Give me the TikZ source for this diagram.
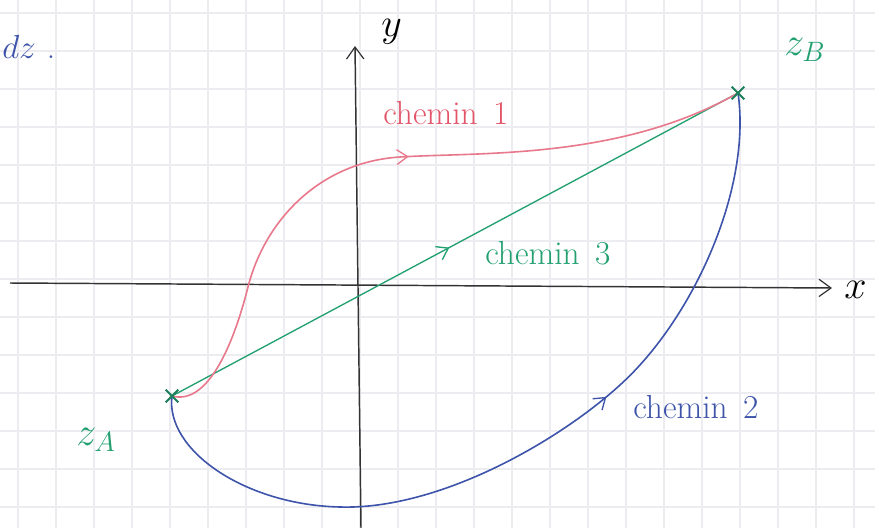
\RequirePackage{fix-cm}
\documentclass[tikz,border=0pt]{standalone}
\usepackage{fontspec}
\usetikzlibrary{arrows.meta,decorations.markings,shapes.misc}

\definecolor{penred}{RGB}{226,84,104}
\definecolor{pinkline}{RGB}{232,120,140}
\definecolor{pengreen}{RGB}{34,160,112}
\definecolor{penblue}{RGB}{62,84,170}
\definecolor{gridgray}{RGB}{236,236,241}

\tikzset{
  axisline/.style={draw=black!80,line width=1.1pt,-{Straight Barb[length=9pt,width=13pt,line width=0.9pt]}},
  midarrow/.style={postaction={decorate},decoration={markings,
      mark=at position #1 with {\arrow{Straight Barb[length=8pt,width=11pt,line width=1pt]}}}},
  handtext/.style={inner sep=0.75pt,anchor=west,font=\fontsize{25}{29}\selectfont},
  bigtext/.style={inner sep=0.75pt,anchor=west,font=\fontsize{30}{34}\selectfont},
  pointmark/.style={cross out,draw=pengreen!80!black,line width=1.5pt,minimum size=8pt,inner sep=0pt},
}

\begin{document}
\begin{tikzpicture}[x=0.75pt,y=0.75pt,yscale=-1,xscale=1]
\useasboundingbox (0,0) rectangle (875,528);
\clip (0,0) rectangle (875,528);
\fill[white] (0,0) rectangle (875,528);

%Grid of the paper
\foreach \gx in {0,...,22} \draw[gridgray,line width=0.8pt] (18+38*\gx,0) -- (18+38*\gx,528);
\foreach \gy in {0,...,13} \draw[gridgray,line width=0.8pt] (0,13+38*\gy) -- (875,13+38*\gy);

%Axes
\coordinate (xstart) at (10,283);
\coordinate (xend) at (832,288);
\coordinate (ystart) at (361,528);
\coordinate (yend) at (355,46);
\draw[axisline] (xstart) -- (xend);
\draw[axisline] (ystart) -- (yend);

%End points
\coordinate (A) at (172,396);
\coordinate (B) at (738,93);

%Chemin 3 : straight line
\draw[pengreen,line width=1pt,midarrow=0.49] (A) -- (B);

%Chemin 1
\draw[pinkline,line width=1.2pt,midarrow=0.52] (A) .. controls (205,405) and (231,354) .. (248,287)
   .. controls (265,220) and (320,162) .. (400,157)
   .. controls (480,152) and (620,160) .. (B);

%Chemin 2
\draw[penblue,line width=1.2pt,midarrow=0.6] (A) .. controls (165,450) and (245,505) .. (340,507)
   .. controls (440,510) and (560,440) .. (620,385)
   .. controls (692,320) and (752,190) .. (B);

%Cross marks
\node[pointmark] (markA) at (A) {};
\node[pointmark] (markB) at (B) {};

% Text Node
\node[bigtext,black] (ylabel) at (380,32) {$y$};
% Text Node
\node[bigtext,black] (xlabel) at (843,290) {$x$};
% Text Node
\node[handtext,penblue] (dz) at (1,47) {$dz$\,\,.};
% Text Node
\node[bigtext,pengreen] (zB) at (783,50) {$z_B$};
% Text Node
\node[bigtext,pengreen] (zA) at (75,440) {$z_A$};
% Text Node
\node[handtext,penred] (c1) at (382,113) {chemin\, 1};
% Text Node
\node[handtext,pengreen] (c3) at (484,253) {chemin\, 3};
% Text Node
\node[handtext,penblue] (c2) at (632,407) {chemin\, 2};

\end{tikzpicture}
\end{document}
